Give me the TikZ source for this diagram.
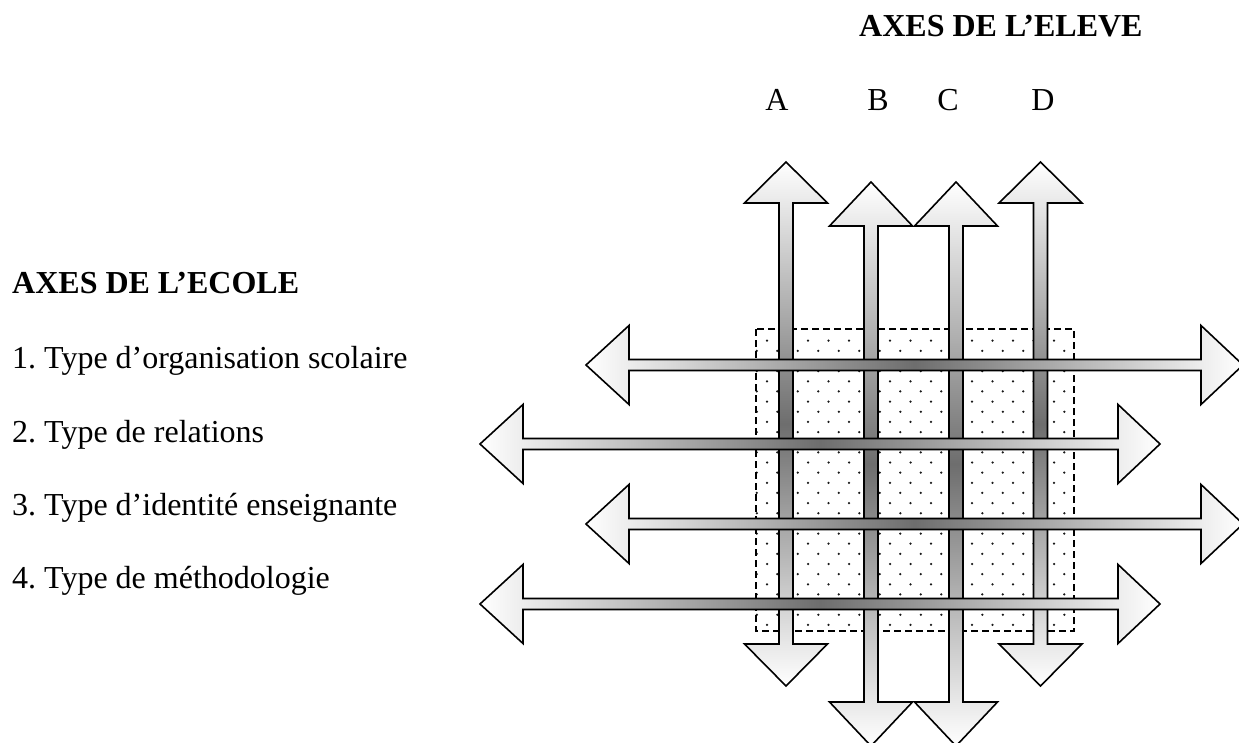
\documentclass[tikz,border=0pt]{standalone}
\usepackage{fontspec}
\setmainfont{Liberation Serif}
\frenchspacing
\begin{document}
\begin{tikzpicture}[x=1pt,y=-1pt]
\tikzset{
  vshade/.style={draw=black, line width=1.6pt, line join=miter, top color=white, bottom color=white, middle color=black!57},
  hshade/.style={draw=black, line width=1.6pt, line join=miter, left color=white, right color=white, middle color=black!57},
  lbl/.style={inner sep=0pt, anchor=base west, font=\fontsize{32}{38}\selectfont},
  ttl/.style={lbl, font=\fontsize{32}{38}\selectfont\bfseries},
  letter/.style={inner sep=0pt, anchor=base, font=\fontsize{32}{38}\selectfont},
  dotbox/.style={draw=black, line width=1.6pt, dash pattern=on 7pt off 4pt},
  dotmark/.style={fill=black!90}
}
% horizontal double arrow: left tip x, right tip x, centre y
\newcommand{\hdarrowshape}[4][]{%
  \path[hshade,#1] (#2,#4) -- (#2+43,#4-39.5) -- (#2+43,#4-5.5) -- (#3-42,#4-5.5)
    -- (#3-42,#4-39.5) -- (#3,#4) -- (#3-42,#4+39.5) -- (#3-42,#4+5.5)
    -- (#2+43,#4+5.5) -- (#2+43,#4+39.5) -- cycle;}
% vertical double arrow: centre x, top tip, top base, bottom base, bottom tip
\newcommand{\vdarrowshape}[5]{%
  \path[vshade] (#1,#2) -- (#1+41.5,#3) -- (#1+7,#3) -- (#1+7,#4) -- (#1+41.5,#4)
    -- (#1,#5) -- (#1-41.5,#4) -- (#1-7,#4) -- (#1-7,#3) -- (#1-41.5,#3) -- cycle;}
\useasboundingbox (0,0) rectangle (1239,743);

% titles and labels
\node[ttl] (eleve) at (859,37) {AXES DE L’ELEVE};
\node[letter] (la) at (777,111) {A};
\node[letter] (lb) at (878,111) {B};
\node[letter] (lc) at (948,111) {C};
\node[letter] (ld) at (1043,111) {D};
\node[ttl] (ecole) at (12,294) {AXES DE L’ECOLE};
\node[lbl] (t1) at (12,368) {1. Type d’organisation scolaire};
\node[lbl] (t2) at (12,442) {2. Type de relations};
\node[lbl] (t3) at (12,515) {3. Type d’identité enseignante};
\node[lbl] (t4) at (12,588) {4. Type de méthodologie};

% dotted field
\foreach \i in {0,...,28}{
  \pgfmathsetmacro{\yy}{340.7+10.15*\i}
  \ifodd\i
    \foreach \k in {0,...,15}{\fill[dotmark] (756.75+20.5*\k,\yy) circle (1.25pt);}
  \else
    \foreach \k in {0,...,14}{\fill[dotmark] (767+20.5*\k,\yy) circle (1.25pt);}
  \fi
}
\draw[dotbox] (756,329) rectangle (1074,631);

% vertical arrows (pupil axes)
\vdarrowshape{786}{162}{203}{644}{686}
\vdarrowshape{871}{182}{226}{702}{746}
\vdarrowshape{956}{182}{226}{702}{746}
\vdarrowshape{1040.5}{162}{203}{644}{686}

% horizontal arrows (school axes)
\hdarrowshape{586}{1243}{365}
\hdarrowshape{480}{1160}{444}
\hdarrowshape{586}{1243}{524}
\hdarrowshape{480}{1160}{604}
\end{tikzpicture}
\end{document}
